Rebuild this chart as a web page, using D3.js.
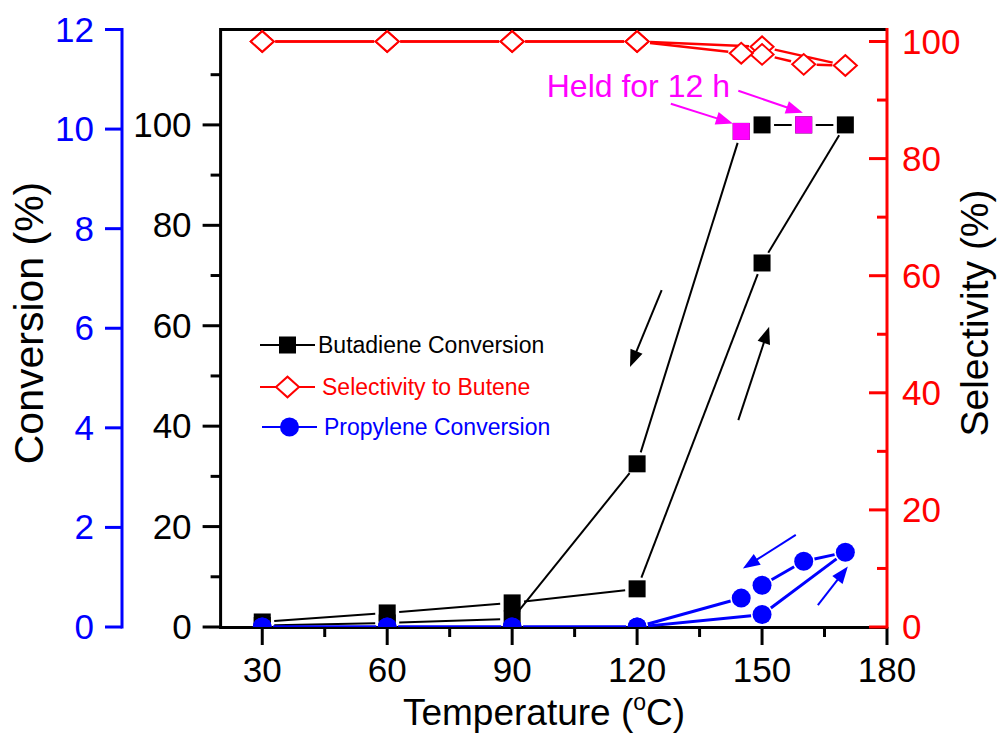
<!DOCTYPE html>
<html><head><meta charset="utf-8">
<script src="https://cdn.jsdelivr.net/npm/d3@7"></script>
<style>body{margin:0;background:#fff}svg{display:block}text{font-family:"Liberation Sans",Arial,sans-serif}</style>
</head><body><svg id="c" width="997" height="735"></svg>
<script>
// ---------- data ----------
const xTicks=[30,60,90,120,150,180];
const xMinorTicks=[45,75,105,135,165];
const leftTicks=[0,20,40,60,80,100];
const leftMinorTicks=[10,30,50,70,90,110];
const blueTicks=[0,2,4,6,8,10,12];
const redTicks=[0,20,40,60,80,100];
const redMinorTicks=[10,30,50,70,90];

// run order: heating 30->170, then cooling 170->30
const runTemp=[30,60,90,120,150,170,160,150,145,120,90,60,30];
const butadieneConv=[1.0,2.8,4.8,7.6,72.5,100,100,100,98.7,32.5,1.6,0.8,0.3];
const heldTemp=[145,160];
const heldConv=[98.7,100];
const selectivity=[100,100,100,100,99.1,95.9,96.1,97.8,98.0,100,100,100,100];
const propyleneConv=[0,0,0,0,0.25,1.5,1.32,0.84,0.58,0,0,0,0];

const legendLabels=["Butadiene Conversion","Selectivity to Butene","Propylene Conversion"];
const heldLabel="Held for 12 h";
// arrows [x0,y0,x1,y1] in (temperature, axis units)
const blackArrows=[[125.9,67.1,118.3,51.8],[144.3,41.2,151.7,59.8]];
const blueArrows=[[158.1,1.85,145.4,1.175],[163.4,0.438,170.6,1.215]];
const heldArrows=[[128.1,104.2,143.0,100.3],[144.3,106.8,159.8,102.4]];
const heldTextPos=[98.3,105.5];

// ---------- layout ----------
const BLACK="#000", RED="#ff0000", BLUE="#0000ff", MAG="#ff00ff";
const svg=d3.select("#c");
const x=d3.scaleLinear([20,180],[220.6,887]);
const yL=d3.scaleLinear([0,119],[627,29.5]);
const yB=d3.scaleLinear([0,12],[627,29.5]);
const yR=d3.scaleLinear([0,100],[627,41.5]);
const X0=x(20), X1=x(180), Y0=yL(0), YT=yL(119);
const FS=35;

svg.append("defs").append("clipPath").attr("id","clip")
  .append("rect").attr("x",X0).attr("y",YT).attr("width",X1-X0).attr("height",Y0-YT);

function line(g,x1,y1,x2,y2,c,w){g.append("line").attr("x1",x1).attr("y1",y1).attr("x2",x2).attr("y2",y2).attr("stroke",c).attr("stroke-width",w);}

const ax=svg.append("g");
// x axis
line(ax,X0,Y0+0.5,X1,Y0+0.5,BLACK,3);
xTicks.forEach(t=>{line(ax,x(t),Y0,x(t),Y0+18,BLACK,3);
  ax.append("text").attr("x",x(t)).attr("y",682).attr("text-anchor","middle").attr("font-size",FS).text(t);});
xMinorTicks.forEach(t=>line(ax,x(t),Y0,x(t),Y0+10,BLACK,3));
// top frame
line(ax,X0,YT,X1,YT,BLACK,3);
// left black axis
line(ax,X0,Y0+2,X0,YT-1.5,BLACK,3);
leftTicks.forEach(t=>{line(ax,X0,yL(t),X0-18,yL(t),BLACK,3);
  ax.append("text").attr("x",X0-29).attr("y",yL(t)+12).attr("text-anchor","end").attr("font-size",FS).text(t);});
leftMinorTicks.forEach(t=>line(ax,X0,yL(t),X0-10,yL(t),BLACK,3));
// blue axis
const XB=122;
line(ax,XB,yB(0)+1.5,XB,yB(12)-1.5,BLUE,3);
blueTicks.forEach(t=>{line(ax,XB,yB(t),XB-17,yB(t),BLUE,3);
  ax.append("text").attr("x",XB-28).attr("y",yB(t)+12).attr("text-anchor","end").attr("font-size",FS).attr("fill",BLUE).text(t);});
// red right axis
line(ax,X1,Y0+1.5,X1,YT-1.5,RED,3);
redTicks.forEach(t=>{line(ax,X1,yR(t),X1-18,yR(t),RED,3);
  ax.append("text").attr("x",X1+15).attr("y",yR(t)+12).attr("text-anchor","start").attr("font-size",FS).attr("fill",RED).text(t);});
redMinorTicks.forEach(t=>line(ax,X1,yR(t),X1-10,yR(t),RED,3));

// axis titles
svg.append("text").attr("transform","translate(43,323) rotate(-90)").attr("text-anchor","middle").attr("font-size",41).text("Conversion (%)");
svg.append("text").attr("transform","translate(988,313) rotate(-90)").attr("text-anchor","middle").attr("font-size",39).text("Selectivity (%)");
const xt=svg.append("text").attr("x",544).attr("y",725).attr("text-anchor","middle").attr("font-size",37);
xt.append("tspan").text("Temperature (");
xt.append("tspan").attr("font-size",23).attr("dy",-15).text("o");
xt.append("tspan").attr("dy",15).text("C)");

// ---------- data ----------
const plot=svg.append("g").attr("clip-path","url(#clip)");
function series(g,xs,ys,ys2,c,w,shrink){
  const p=xs.map((t,i)=>[x(t),ys2(ys[i])]);
  for(let i=0;i<p.length-1;i++){
    const [ax1,ay1]=p[i],[bx,by]=p[i+1];
    const dx=bx-ax1,dy=by-ay1,L=Math.hypot(dx,dy);
    if(L<2*shrink+4) continue;
    const ux=dx/L,uy=dy/L;
    line(g,ax1+ux*shrink,ay1+uy*shrink,bx-ux*shrink,by-uy*shrink,c,w);
  }
  return p;
}
function square(g,cx,cy,s,fill){g.append("rect").attr("x",cx-s/2).attr("y",cy-s/2).attr("width",s).attr("height",s).attr("fill",fill);}
function diamond(g,cx,cy,r){g.append("path").attr("d",`M${cx-r},${cy}L${cx},${cy-r*0.9}L${cx+r},${cy}L${cx},${cy+r*0.9}Z`).attr("fill","#fff").attr("stroke",RED).attr("stroke-width",2);}
function circle(g,cx,cy,r){g.append("circle").attr("cx",cx).attr("cy",cy).attr("r",r).attr("fill",BLUE);}

// butadiene
const pb=series(plot,runTemp,butadieneConv,yL,BLACK,2,12);
pb.forEach(([a,b])=>square(plot,a,b,17,BLACK));
heldTemp.forEach((t,i)=>square(plot,x(t),yL(heldConv[i]),17,MAG));
// selectivity
const pr=series(plot,runTemp,selectivity,yR,RED,2.5,13);
pr.forEach(([a,b])=>diamond(plot,a,b,11.5));
// propylene
const pp=series(plot,runTemp,propyleneConv,yB,BLUE,3,11);
pp.forEach(([a,b])=>circle(plot,a,b,9.5));

// arrows
function arrow(g,x1,y1,x2,y2,c,w){
  const dx=x2-x1,dy=y2-y1,L=Math.hypot(dx,dy),ux=dx/L,uy=dy/L,hl=17,hw=6.5;
  const bx=x2-ux*hl,by=y2-uy*hl;
  line(g,x1,y1,bx+ux*2,by+uy*2,c,w);
  g.append("path").attr("d",`M${x2},${y2}L${bx-uy*hw},${by+ux*hw}L${bx+uy*hw},${by-ux*hw}Z`).attr("fill",c);
}
const an=svg.append("g");
blackArrows.forEach(a=>arrow(an,x(a[0]),yL(a[1]),x(a[2]),yL(a[3]),BLACK,2));
blueArrows.forEach(a=>arrow(an,x(a[0]),yB(a[1]),x(a[2]),yB(a[3]),BLUE,2));
heldArrows.forEach(a=>arrow(an,x(a[0]),yL(a[1]),x(a[2]),yL(a[3]),MAG,2));
an.append("text").attr("x",x(heldTextPos[0])).attr("y",yL(heldTextPos[1])).attr("font-size",32).attr("fill",MAG).text(heldLabel);

// legend
const lg=svg.append("g");
const rows=[{y:345,c:BLACK,m:"sq",tx:318},{y:387,c:RED,m:"di",tx:322},{y:427,c:BLUE,m:"ci",tx:324}];
rows.forEach((r,i)=>{
  const x0=260+(i==2?2:0);
  line(lg,x0,r.y,x0+55,r.y,r.c,2);
  const cx=x0+27.5;
  if(r.m=="sq") square(lg,cx,r.y,17,BLACK);
  else if(r.m=="di") diamond(lg,cx,r.y,11.5);
  else circle(lg,cx,r.y,9.5);
  lg.append("text").attr("x",r.tx).attr("y",r.y+8).attr("font-size",23).attr("fill",r.c).text(legendLabels[i]);
});
</script></body></html>
